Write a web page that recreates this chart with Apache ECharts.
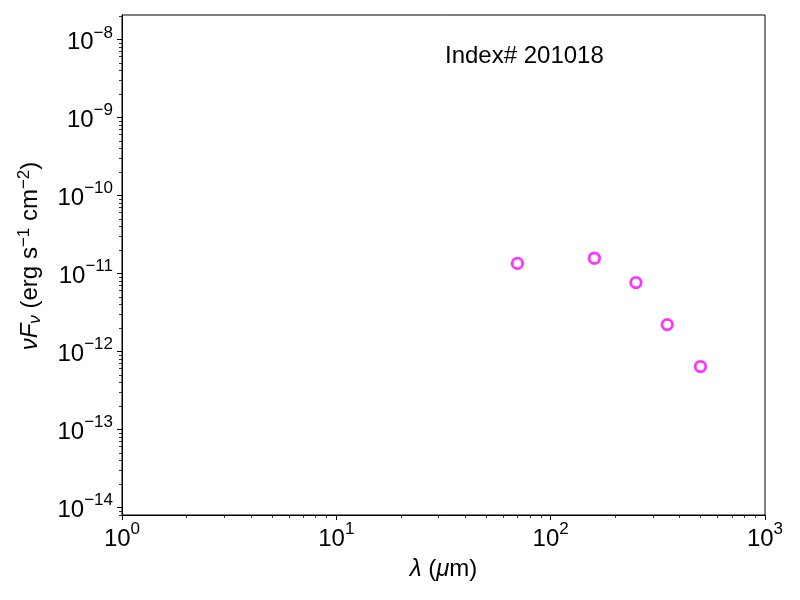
<!DOCTYPE html>
<html>
<head>
<meta charset="utf-8">
<script src="https://cdn.jsdelivr.net/npm/echarts@6/dist/echarts.min.js"></script>
<style>
html,body{margin:0;padding:0;background:#fff;}
#chart{width:800px;height:600px;}
</style>
</head>
<body>
<div id="chart"></div>
<script>
// Data
const wavelengths = [70, 160, 250, 350, 500];            // micron
const nuFnu = [1.34e-11, 1.56e-11, 7.6e-12, 2.2e-12, 6.37e-13]; // erg s^-1 cm^-2
const xMajorTicks = [1, 10, 100, 1000];
const yMajorTicks = [1e-14, 1e-13, 1e-12, 1e-11, 1e-10, 1e-9, 1e-8];
const xRange = [1, 1000];
const yRange = [7.96e-15, 2.05e-8];
const labelText = 'Index# 201018';

function minorTicks(lo, hi) {
  const out = [];
  for (let n = Math.floor(Math.log10(lo)) ; n <= Math.ceil(Math.log10(hi)); n++) {
    for (let k = 2; k <= 9; k++) {
      const v = k * Math.pow(10, n);
      if (v >= lo && v <= hi) out.push(v);
    }
  }
  return out;
}
const xMinor = minorTicks(xRange[0], xRange[1]);
const yMinor = minorTicks(yRange[0], yRange[1]);

const FONT = '"Liberation Sans", Arial, Helvetica, sans-serif';
function powLabel(v) {
  const e = Math.round(Math.log10(v));
  return '{b|10}{s|' + (e < 0 ? '\u2212' + (-e) : e) + '}';
}
const powRich = {
  b: {fontSize: 24, fontFamily: FONT, color: '#000', verticalAlign: 'bottom', lineHeight: 30},
  s: {fontSize: 17, fontFamily: FONT, color: '#000', verticalAlign: 'top', lineHeight: 20}
};

const chart = echarts.init(document.getElementById('chart'), null, {renderer: 'canvas'});
const axisLineStyle = {show: true, lineStyle: {color: '#000', width: 1}};
chart.setOption({
  animation: false,
  backgroundColor: '#fff',
  grid: {left: 122, right: 35, top: 15, bottom: 85, show: true, borderColor: '#000', borderWidth: 1, backgroundColor: 'transparent'},
  xAxis: [
    {
      type: 'log', logBase: 10, min: xRange[0], max: xRange[1], position: 'bottom',
      axisLine: axisLineStyle,
      axisTick: {show: true, inside: false, length: 5, customValues: xMajorTicks, lineStyle: {color: '#000', width: 1}},
      axisLabel: {show: true, margin: 6, customValues: xMajorTicks, formatter: powLabel, rich: powRich},
      splitLine: {show: false},
      name: '{i|\u03bb} {n|(}{i|\u03bc}{n|m)}',
      nameLocation: 'middle', nameGap: 42,
      nameTextStyle: {
        fontSize: 24, fontFamily: FONT, color: '#000',
        rich: {
          i: {fontSize: 24, fontFamily: FONT, fontStyle: 'italic', color: '#000'},
          n: {fontSize: 24, fontFamily: FONT, color: '#000'}
        }
      }
    },
    {
      type: 'log', logBase: 10, min: xRange[0], max: xRange[1], position: 'bottom',
      axisLine: {show: false},
      axisTick: {show: true, inside: false, length: 3, customValues: xMinor, lineStyle: {color: '#000', width: 0.8}},
      axisLabel: {show: false},
      splitLine: {show: false}
    }
  ],
  yAxis: [
    {
      type: 'log', logBase: 10, min: yRange[0], max: yRange[1], position: 'left',
      axisLine: axisLineStyle,
      axisTick: {show: true, inside: false, length: 5, customValues: yMajorTicks, lineStyle: {color: '#000', width: 1}},
      axisLabel: {show: true, margin: 9, customValues: yMajorTicks, formatter: powLabel, rich: powRich},
      splitLine: {show: false},
      name: '{i|\u03bdF}{sub|\u03bd}{n| (erg s}{sup|\u22121}{n| cm}{sup|\u22122}{n|)}',
      nameLocation: 'middle', nameGap: 78, nameRotate: 90,
      nameTextStyle: {
        fontSize: 24, fontFamily: FONT, color: '#000', padding: [0, 0, 0, 18],
        rich: {
          i: {fontSize: 24, fontFamily: FONT, fontStyle: 'italic', color: '#000', verticalAlign: 'middle', lineHeight: 28},
          n: {fontSize: 24, fontFamily: FONT, color: '#000', verticalAlign: 'middle', lineHeight: 28},
          sub: {fontSize: 17, fontFamily: FONT, fontStyle: 'italic', color: '#000', verticalAlign: 'bottom', lineHeight: 20},
          sup: {fontSize: 17, fontFamily: FONT, color: '#000', verticalAlign: 'top', lineHeight: 20}
        }
      }
    },
    {
      type: 'log', logBase: 10, min: yRange[0], max: yRange[1], position: 'left',
      axisLine: {show: false},
      axisTick: {show: true, inside: false, length: 3, customValues: yMinor, lineStyle: {color: '#000', width: 0.8}},
      axisLabel: {show: false},
      splitLine: {show: false}
    }
  ],
  graphic: [
    {
      type: 'text', left: 445, top: 44,
      style: {text: labelText, fontSize: 24, fontFamily: FONT, fill: '#000'}
    }
  ],
  series: [
    {
      type: 'scatter', xAxisIndex: 0, yAxisIndex: 0,
      data: wavelengths.map((w, i) => [w, nuFnu[i]]),
      symbol: 'circle', symbolSize: 10.5,
      itemStyle: {color: 'rgba(255,255,255,0)', borderColor: '#ff00ff', borderWidth: 2.8}
    }
  ]
});
</script>
</body>
</html>
